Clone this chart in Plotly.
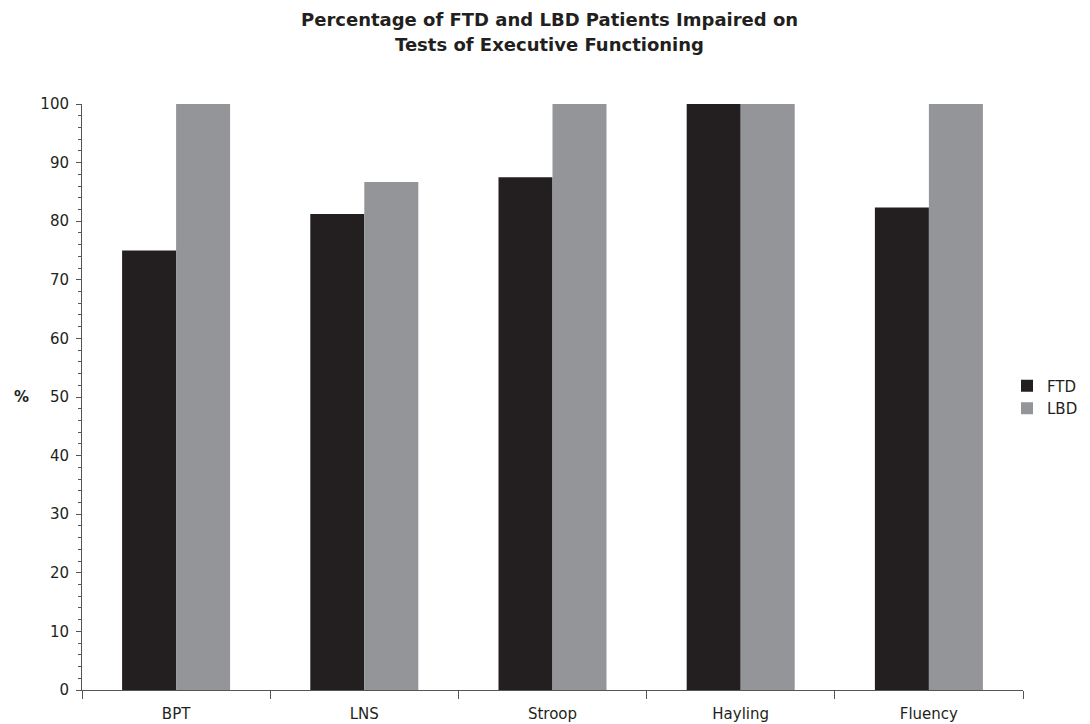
import plotly.graph_objects as go

categories = ["BPT", "LNS", "Stroop", "Hayling", "Fluency"]
ftd = [75.0, 81.25, 87.5, 100.0, 82.35]
lbd = [100.0, 86.67, 100.0, 100.0, 100.0]
y_ticks = list(range(0, 101, 10))

# page has an 8px body margin; figure is sized to fit the window
W, H = 1082, 716
L, R, T, B = 74, 67, 96, 34
PW, PH = W - L - R, H - T - B


def px(xf):
    return (xf - L) / PW


def py(yf):
    return (H - B - yf) / PH


fig = go.Figure()
fig.add_trace(go.Bar(x=categories, y=ftd, name="FTD", marker=dict(color="#231f20", line=dict(width=0))))
fig.add_trace(go.Bar(x=categories, y=lbd, name="LBD", marker=dict(color="#939598", line=dict(width=0))))

font = "Verdana, DejaVu Sans, sans-serif"
fig.update_layout(
    width=W, height=H,
    margin=dict(l=L, r=R, t=T, b=B, autoexpand=False),
    plot_bgcolor="white", paper_bgcolor="white",
    barmode="group", bargap=0.426, bargroupgap=0,
    font=dict(family=font, size=15, color="#231f20"),
    showlegend=True,
    legend=dict(x=0.983, y=0.5, xanchor="left", yanchor="middle", font=dict(size=15),
                itemwidth=30, bgcolor="rgba(0,0,0,0)"),
    xaxis=dict(showline=True, linecolor="#555", linewidth=1, ticks="outside", tickson="boundaries",
               ticklen=8, tickcolor="#555", showgrid=False, tickfont=dict(size=15),
               ticklabelstandoff=10),
    yaxis=dict(range=[0, 100], tickvals=y_ticks, showline=True, linecolor="#555", linewidth=1,
               ticks="outside", ticklen=5, tickcolor="#555", showgrid=False, zeroline=False,
               tickfont=dict(size=15), ticklabelstandoff=4,
               minor=dict(dtick=2, ticks="outside", ticklen=3, tickcolor="#555")),
    annotations=[
        dict(text="<b>Percentage of FTD and LBD Patients Impaired on</b>",
             xref="paper", yref="paper", x=px(541), y=py(11.5),
             xanchor="center", yanchor="middle", showarrow=False, font=dict(size=18, family=font)),
        dict(text="<b>Tests of Executive Functioning</b>",
             xref="paper", yref="paper", x=px(541), y=py(36),
             xanchor="center", yanchor="middle", showarrow=False, font=dict(size=18, family=font)),
        dict(text="<b>%</b>", xref="paper", yref="paper", x=px(14), y=py(389),
             xanchor="center", yanchor="middle", showarrow=False, font=dict(size=15, family=font)),
    ],
)

fig.write_html("out.html")
